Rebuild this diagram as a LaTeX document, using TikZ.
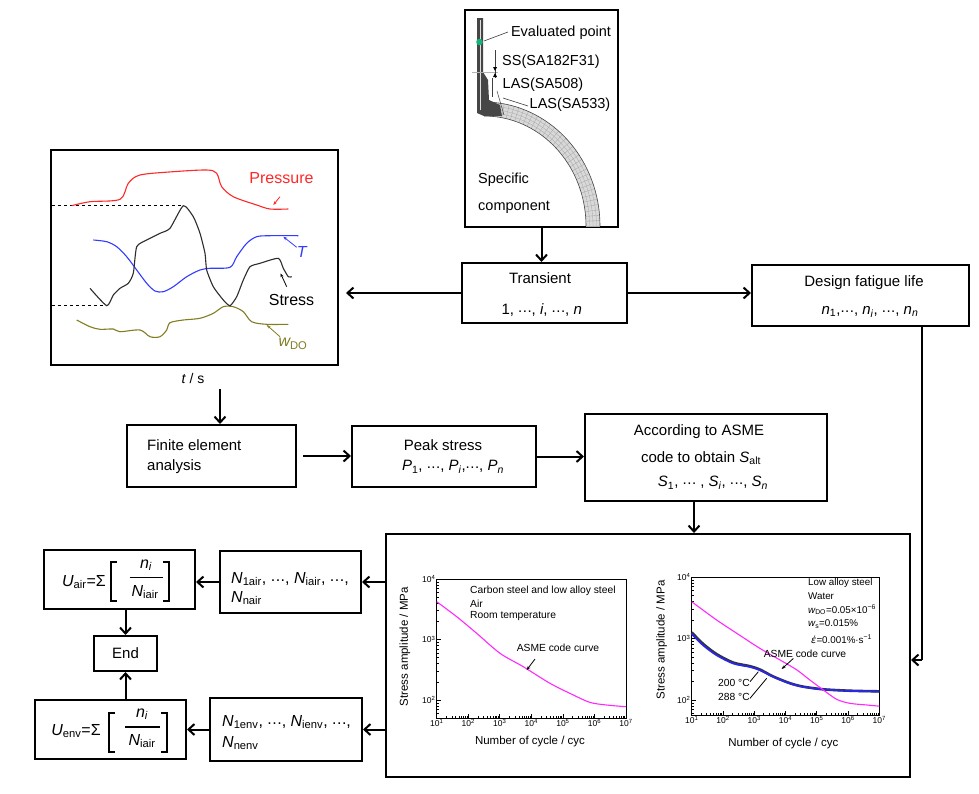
\documentclass[tikz,border=0pt]{standalone}
\usepackage{fontspec}
\setmainfont{Liberation Sans}
\newfontfamily\djv{DejaVu Sans}
\usetikzlibrary{arrows.meta}
\definecolor{pres}{RGB}{255,40,40}
\definecolor{tblue}{RGB}{50,60,255}
\definecolor{olivec}{RGB}{130,125,35}
\definecolor{stressc}{RGB}{45,45,45}
\definecolor{mag}{RGB}{255,40,255}
\definecolor{envblue}{RGB}{40,40,230}
\definecolor{dotg}{RGB}{20,180,120}
\newcommand\fbig{\fontsize{15}{18}\selectfont}
\newcommand\fN{\fontsize{16}{19}\selectfont}
\newcommand\fcomp{\fontsize{14.5}{17}\selectfont}
\newcommand\fchart{\fontsize{16}{19}\selectfont}
\newcommand\fsm{\fontsize{10.3}{12}\selectfont}
\newcommand\fleg{\fontsize{9.8}{11}\selectfont}
\newcommand\fax{\fontsize{11.5}{13}\selectfont}
\newcommand\ftick{\fontsize{8.5}{9}\selectfont}
\newcommand\dts{\raisebox{0.25ex}{.\kern0.5pt.\kern0.5pt.}}
\newcommand\epsdot{{\djv\itshape ε̇}}
\tikzset{
  box/.style={draw, line width=2pt, inner sep=0pt},
  arr/.style={line width=2pt, -{Straight Barb[length=6pt,width=11pt]}},
  btxt/.style={font=\fbig, inner sep=0pt},
  ntxt/.style={font=\fN, inner sep=0pt, anchor=west},
  ctxt/.style={font=\fcomp, inner sep=0pt},
  smtxt/.style={font=\fsm, inner sep=0pt},
  legtxt/.style={font=\fleg, inner sep=0pt, anchor=west},
  tick/.style={font=\ftick, inner sep=1pt},
  leader/.style={line width=0.8pt, -{Stealth[length=4pt,width=3pt]}},
  frame/.style={line width=1pt},
  bracket/.style={line width=2.2pt},
}
\begin{document}
\begin{tikzpicture}[x=1pt,y=-1pt]
\useasboundingbox (0,0) rectangle (979,793);
\fill[white] (0,0) rectangle (979,793);

% ---------- boxes ----------
\node[box, minimum width=153pt, minimum height=217pt] (comp) at (541.5,118.5) {};
\node[box, minimum width=165pt, minimum height=60pt] (trans) at (544.5,293) {};
\node[box, minimum width=217pt, minimum height=61pt] (design) at (860.5,295.5) {};
\node[box, minimum width=287pt, minimum height=215pt] (chart) at (194.5,257.5) {};
\node[box, minimum width=169pt, minimum height=62pt] (fea) at (211.5,456) {};
\node[box, minimum width=184pt, minimum height=61pt] (peak) at (444,456.5) {};
\node[box, minimum width=242pt, minimum height=87pt] (asme) at (706,457.5) {};
\node[box, minimum width=524pt, minimum height=243pt] (big) at (648,655.5) {};
\node[box, minimum width=151pt, minimum height=59pt] (uair) at (119.5,579.5) {};
\node[box, minimum width=141pt, minimum height=62pt] (nair) at (290.5,582) {};
\node[box, minimum width=63pt, minimum height=35pt] (end) at (125.5,653.5) {};
\node[box, minimum width=151pt, minimum height=59pt] (uenv) at (110.5,729.5) {};
\node[box, minimum width=152pt, minimum height=63pt] (nenv) at (286,729.5) {};

% ---------- component drawing ----------
\begin{scope}
\clip (466,11) rectangle (617,226);
\fill[gray!30] plot[domain=0:90,samples=40] ({484+116*sin(\x)},{226-124*cos(\x)})
   -- plot[domain=90:0,samples=40] ({484+102*sin(\x)},{226-110*cos(\x)}) -- cycle;
\foreach \a in {0,2.5,...,90}
  \draw[gray!70, line width=0.35pt] ({484+102*sin(\a)},{226-110*cos(\a)}) -- ({484+116*sin(\a)},{226-124*cos(\a)});
\foreach \r in {3.5,7,10.5}
  \draw[gray!65, line width=0.35pt] plot[domain=0:90,samples=40] ({484+(102+\r)*sin(\x)},{226-(110+\r)*cos(\x)});
\draw[gray!55!black, line width=0.6pt] plot[domain=0:90,samples=40] ({484+116*sin(\x)},{226-124*cos(\x)});
\draw[gray!55!black, line width=0.6pt] plot[domain=0:90,samples=40] ({484+102*sin(\x)},{226-110*cos(\x)});
\end{scope}
\fill[gray!55!black] (477,18) -- (483,18) -- (483,72) -- (488,80) -- (489,100) -- (500,105) -- (502,116) -- (484,116) -- (477,113) -- cycle;
\draw[gray!25, line width=0.3pt] (480,20) -- (480,110);
\draw[gray!60, line width=0.5pt] (472,72) -- (498,72);
\draw[gray!50!black, line width=0.5pt] (495,50) -- (495,78);
\draw[gray!50!black, line width=0.5pt] (492,78) -- (492,97);
\draw[gray!50!black, line width=0.5pt] (497,91) -- (504,115);
\fill[black] (495,71) -- (493,67) -- (497,67) -- cycle;
\fill[black] (495,73) -- (493,77) -- (497,77) -- cycle;
\fill[dotg] (479.5,42) circle (3.3);
\draw[gray!50!black, line width=0.6pt] (484,41) -- (508,32);
\draw[gray!50!black, line width=0.6pt] (503,98) -- (528,106);
\node[ctxt] (evp) at (561,33) {Evaluated point};
\node[ctxt] (ss) at (551,62) {SS(SA182F31)};
\node[ctxt] (las1) at (543,85) {LAS(SA508)};
\node[ctxt] (las2) at (570,105) {LAS(SA533)};
\node[ctxt, anchor=west] (spec) at (478,180) {Specific};
\node[ctxt, anchor=west] (compo) at (478,207) {component};

% ---------- time-history chart ----------
\draw[dashed, line width=0.9pt] (52,205.7) -- (183.3,205.7);
\draw[dashed, line width=0.9pt] (52,305.7) -- (106.7,305.7);
\draw[pres, line width=1.1pt] plot[smooth, tension=0.5] coordinates {(71.7,205.7) (90,201.7) (120,199.3) (128.3,183.3) (140,175) (173.3,171.7) (206.7,170) (216.7,173.3) (221.7,186.7) (233.3,196.7) (256.7,205) (270,209) (288.3,209)};
\draw[tblue, line width=1.1pt] plot[smooth, tension=0.5] coordinates {(93.3,240) (106.7,241.7) (116.7,246.7) (126.7,256.7) (136.7,270) (146.7,283.3) (155,291) (163.3,291.7) (173.3,286.7) (186.7,276.7) (200,270) (210,268.3) (230,267.3) (236.7,256.7) (246.7,243.3) (256.7,236.7) (270,235.7) (298.3,235.7)};
\draw[olivec, line width=1.1pt] plot[smooth, tension=0.5] coordinates {(76.7,320) (90,326.7) (100,329.3) (113.3,329) (120,331.7) (140,330) (150,336.7) (160,336.7) (166.7,330) (170,322.7) (183.3,320) (200,318.3) (213.3,313.3) (223.3,306.7) (233.3,306.7) (243.3,311.7) (251.7,321.7) (266.7,324.3) (288.3,324.3)};
\draw[stressc, line width=1.1pt] plot[smooth, tension=0.35] coordinates {(90,288.3) (106.7,305.7) (113.3,295) (120,288.3) (128.3,283.3) (133.3,273.3) (136.7,246.7) (146.7,240) (160,233.3) (170,228.3) (183.3,205.7) (193.3,216.7) (200,233.3) (205,253.3) (206.7,270) (213.3,286.7) (223.3,300) (230,305.7) (236.7,296.7) (243.3,280) (250,266.7) (260,263.3) (278.3,258.3) (283.3,268.3) (288.3,276.7) (291.7,276.7)};
\node[font=\fchart, text=pres, inner sep=0pt] (plab) at (281.5,178) {Pressure};
\node[font=\fchart, text=tblue, inner sep=0pt] (tlab) at (301.7,251.7) {\itshape T};
\node[font=\fchart, inner sep=0pt] (slab) at (291.5,300) {Stress};
\node[font=\fchart, text=olivec, inner sep=0pt] (wlab) at (293,344) {{\itshape w}\textsubscript{DO}};
\draw[leader, pres] (280,196.7) -- (273.3,205);
\draw[leader, tblue] (296.7,247.3) -- (283.3,236.7);
\draw[leader, black] (286.7,286.7) -- (280.5,273.3);
\draw[leader, olivec] (280,336.7) -- (266.7,325);
\node[font=\fontsize{14}{16}\selectfont, inner sep=0pt] (ts) at (193,378) {{\itshape t} / s};
\coordinate (tsarr) at (220,389);

% ---------- texts in boxes ----------
\node[btxt] (trans1) at (540,278) {Transient};
\node[btxt] (trans2) at (541.7,310) {1, \dts, {\itshape i}, \dts, {\itshape n}};
\node[btxt] (des1) at (864,283) {Design fatigue life};
\node[btxt] (des2) at (870,312) {{\itshape n}\textsubscript{1},\dts, {\itshape n}\textsubscript{\itshape i}, \dts, {\itshape n}\textsubscript{\itshape n}};
\node[btxt, anchor=west] (fea1) at (147,445) {Finite element};
\node[btxt, anchor=west] (fea2) at (147,467) {analysis};
\node[btxt] (peak1) at (443,445) {Peak stress};
\node[btxt] (peak2) at (453,467) {{\itshape P}\textsubscript{1}, \dts, {\itshape P}\textsubscript{\itshape i},\dts, {\itshape P}\textsubscript{\itshape n}};
\node[btxt] (asme1) at (699,432) {According to ASME};
\node[btxt] (asme2) at (701,458) {code to obtain {\itshape S}\textsubscript{alt}};
\node[btxt] (asme3) at (713,483) {{\itshape S}\textsubscript{1}, \dts\ , {\itshape S}\textsubscript{\itshape i}, \dts, {\itshape S}\textsubscript{\itshape n}};

\node[ntxt] (nair1) at (231,579) {{\itshape N}\textsubscript{1air}, \dts, {\itshape N}\textsubscript{iair}, \dts,};
\node[ntxt] (nair2) at (231,598) {{\itshape N}\textsubscript{nair}};
\node[ntxt] (nenv1) at (222,722) {{\itshape N}\textsubscript{1env}, \dts, {\itshape N}\textsubscript{ienv}, \dts,};
\node[ntxt] (nenv2) at (222,743) {{\itshape N}\textsubscript{nenv}};
\node[btxt] (endt) at (125.5,653.5) {End};

% U_air formula
\node[font=\fN, inner sep=0pt] (uairL) at (84,582) {{\itshape U}\textsubscript{air}=Σ};
\node[font=\fN, inner sep=0pt] (uairn) at (146,565) {{\itshape n}\textsubscript{\itshape i}};
\node[font=\fN, inner sep=0pt] (uaird) at (145,592) {{\itshape N}\textsubscript{iair}};
\draw[line width=1.2pt] (130,577.5) -- (163,577.5);
\draw[bracket] (117,562) -- (111,562) -- (111,601) -- (117,601);
\draw[bracket] (163,562) -- (169,562) -- (169,601) -- (163,601);
% U_env formula
\node[font=\fN, inner sep=0pt] (uenvL) at (76,731) {{\itshape U}\textsubscript{env}=Σ};
\node[font=\fN, inner sep=0pt] (uenvn) at (142,714) {{\itshape n}\textsubscript{\itshape i}};
\node[font=\fN, inner sep=0pt] (uenvd) at (142,741) {{\itshape N}\textsubscript{iair}};
\draw[line width=1.2pt] (125,727) -- (160,727);
\draw[bracket] (115,713) -- (109,713) -- (109,752) -- (115,752);
\draw[bracket] (161,713) -- (167,713) -- (167,752) -- (161,752);

% ---------- connectors ----------
\draw[arr] (comp.south) -- (comp.south |- trans.north);
\draw[arr, shorten >=7pt] (trans.west) -- (trans.west -| chart.east);
\draw[arr] (trans.east) -- (trans.east -| design.west);
\coordinate (dturn) at (922,660);
\draw[line width=2pt] (design.south -| dturn) -- (dturn);
\draw[arr] (dturn) -- (dturn -| big.east);
\draw[arr] (tsarr) -- (tsarr |- fea.north);
\draw[arr, shorten <=6pt] (fea.east) -- (fea.east -| peak.west);
\draw[arr] (peak.east) -- (peak.east -| asme.west);
\draw[arr] ([xshift=-12pt]asme.south) -- ([xshift=-12pt]asme.south |- big.north);
\draw[arr] (big.west |- nair.east) -- (nair.east);
\draw[arr] (nair.west) -- (nair.west -| uair.east);
\draw[arr] (uair.south -| end.north) -- (end.north);
\draw[arr] (uenv.north -| end.south) -- (end.south);
\draw[arr] (big.west |- nenv.east) -- (nenv.east);
\draw[arr] (nenv.west) -- (nenv.west -| uenv.east);

% ---------- left S-N chart ----------
\begin{scope}[shift={(436.7,579)}, x=31.55pt, y=60.5pt]
\draw[frame] (0,0) rectangle (6,-2.302);
\foreach \d in {0,...,6} {
  \draw[line width=0.7pt] (\d,-2.302) -- ++(0,4pt);
  \pgfmathtruncatemacro\e{\d+1}
  \node[tick, anchor=north] at (\d,-2.302) {10\textsuperscript{\e}};
}
\foreach \d in {0,...,5} \foreach \m in {2,...,9}
  \draw[line width=0.5pt] ({\d+log10(\m)},-2.302) -- ++(0,2.2pt);
\foreach \v/\e in {0/4,-1/3,-2/2} {
  \draw[line width=0.7pt] (0,\v) -- ++(4pt,0);
  \node[tick, anchor=east] at (0,\v) {10\textsuperscript{\e}};
}
\foreach \k in {-2,-1} \foreach \m in {2,...,9}
  \draw[line width=0.5pt] (0,{\k+log10(\m)}) -- ++(2.2pt,0);
\foreach \m in {6,...,9}
  \draw[line width=0.5pt] (0,{-3+log10(\m)}) -- ++(2.2pt,0);
\draw[mag, line width=1.1pt] plot[smooth, tension=0.5] coordinates {(0,-0.375) (0.634,-0.623) (1.268,-0.898) (2.006,-1.228) (2.745,-1.45) (3.59,-1.724) (4.33,-1.917) (4.86,-2.04) (5.39,-2.083) (6,-2.111)};
\end{scope}
\node[smtxt, anchor=west] (c1) at (470,590.7) {Carbon steel and low alloy steel};
\node[smtxt, anchor=west] (c2) at (470,604) {Air};
\node[smtxt, anchor=west] (c3) at (470,616.5) {Room temperature};
\node[smtxt] (c4) at (558,648.3) {ASME code curve};
\draw[leader] (535,659) -- (526.7,670);
\node[font=\fax, inner sep=0pt] (xl1) at (530,741.7) {Number of cycle / cyc};
\node[font=\fax, inner sep=0pt, rotate=90] (yl1) at (405,646.7) {Stress amplitude / MPa};

% ---------- right S-N chart ----------
\begin{scope}[shift={(691.7,577)}, x=31.27pt, y=61.5pt]
\draw[frame] (0,0) rectangle (6,-2.244);
\foreach \d in {0,...,6} {
  \draw[line width=0.7pt] (\d,-2.244) -- ++(0,4pt);
  \pgfmathtruncatemacro\e{\d+1}
  \node[tick, anchor=north] at (\d,-2.244) {10\textsuperscript{\e}};
}
\foreach \d in {0,...,5} \foreach \m in {2,...,9}
  \draw[line width=0.5pt] ({\d+log10(\m)},-2.244) -- ++(0,2.2pt);
\foreach \v/\e in {0/4,-1/3,-2/2} {
  \draw[line width=0.7pt] (0,\v) -- ++(4pt,0);
  \node[tick, anchor=east] at (0,\v) {10\textsuperscript{\e}};
}
\foreach \k in {-2,-1} \foreach \m in {2,...,9}
  \draw[line width=0.5pt] (0,{\k+log10(\m)}) -- ++(2.2pt,0);
\foreach \m in {6,...,9}
  \draw[line width=0.5pt] (0,{-3+log10(\m)}) -- ++(2.2pt,0);
\draw[black!80, line width=2.6pt] plot[smooth, tension=0.5] coordinates {(0,-0.9) (0.371,-1.09) (0.8,-1.255) (1.33,-1.392) (1.864,-1.45) (2.184,-1.505) (2.61,-1.618) (3.144,-1.727) (3.569,-1.783) (4.209,-1.826) (5.06,-1.849) (6,-1.859)};
\draw[envblue, line width=1.8pt] plot[smooth, tension=0.5] coordinates {(0,-0.925) (0.371,-1.112) (0.8,-1.272) (1.33,-1.406) (1.864,-1.462) (2.184,-1.515) (2.61,-1.624) (3.144,-1.731) (3.569,-1.786) (4.209,-1.828) (5.06,-1.851) (6,-1.861)};
\draw[mag, line width=1.1pt] plot[smooth, tension=0.5] coordinates {(0,-0.402) (0.8,-0.70) (1.44,-0.915) (2.18,-1.16) (2.93,-1.38) (3.36,-1.51) (3.78,-1.675) (4.21,-1.837) (4.64,-1.99) (5.06,-2.054) (5.6,-2.081) (6,-2.10)};
\end{scope}
\node[legtxt] (r1) at (808,583) {Low alloy steel};
\node[legtxt] (r2) at (808,596.5) {Water};
\node[legtxt] (r3) at (808,610) {{\itshape w}\textsubscript{DO}=0.05×10\textsuperscript{−6}};
\node[legtxt] (r4) at (808,624) {{\itshape w}\textsubscript{s}=0.015\%};
\node[legtxt] (r5) at (811,639.5) {\epsdot=0.001\%·s\textsuperscript{−1}};
\node[smtxt] (r6) at (805,653.5) {ASME code curve};
\draw[leader] (793.3,658.5) -- (781.7,669);
\node[smtxt] (t200) at (734,682.7) {200 °C};
\node[smtxt] (t288) at (734,696.7) {288 °C};
\draw[line width=0.8pt] (750,681.7) -- (758.3,671.7);
\draw[line width=0.8pt] (750,698.3) -- (766.7,678.3);
\node[font=\fax, inner sep=0pt] (xl2) at (783.3,743.3) {Number of cycle / cyc};
\node[font=\fax, inner sep=0pt, rotate=90] (yl2) at (661.7,640) {Stress amplitude / MPa};
\end{tikzpicture}
\end{document}
